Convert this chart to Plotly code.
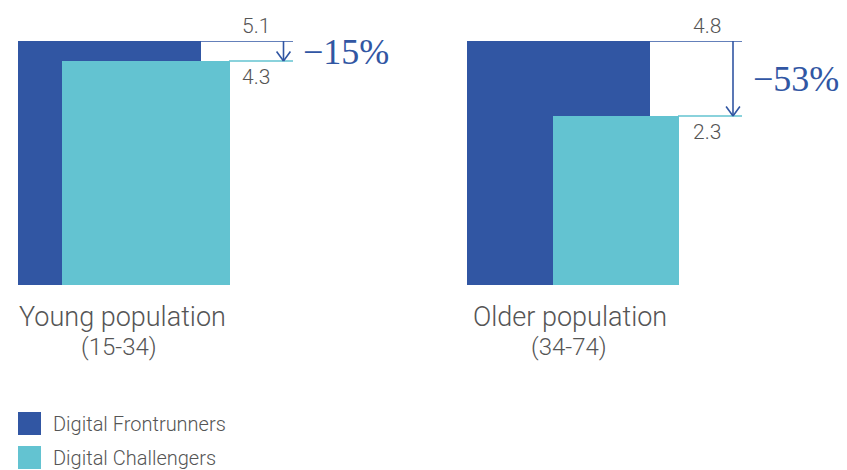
import math
import plotly.graph_objects as go

# ---------------- data ----------------
groups = ["Young population", "Older population"]
age_ranges = ["(15-34)", "(34-74)"]
series_names = ["Digital Frontrunners", "Digital Challengers"]
frontrunners = [5.1, 4.8]
challengers = [4.3, 2.3]
value_labels_front = ["5.1", "4.8"]
value_labels_chall = ["4.3", "2.3"]
change_labels = ["\u221215%", "\u221253%"]

# ---------------- style / layout ----------------
DARK = "#3156A3"
TEAL = "#63C3D1"
TEXT = "#555555"
SANS = "Roboto"
SERIF = "Liberation Serif"

W, H = 847, 470
PLOT_TOP, PLOT_BOTTOM = 41, 285
GROUP_CENTER0 = 109.0   # px of group 0 centre
GROUP_STEP = 449.5      # px between groups


def xu(px):
    """pixel -> x-axis units"""
    return (px - GROUP_CENTER0) / GROUP_STEP


def px_x(px):
    return px / W


def px_y(py):
    return 1 - py / H


# per-group geometry (pixels) and log-axis span (decades)
geom = [
    dict(dark=(18, 201), teal=(62, 230), line_end=293, arrow_x=283.5,
         label_x=256, pct_x=301, cat_x=122, age_x=119, decades=0.904),
    dict(dark=(467, 650), teal=(553, 679), line_end=742, arrow_x=733,
         label_x=706.5, pct_x=751, cat_x=570, age_x=569, decades=1.0396),
]

fig = go.Figure()
annotations = []

for i, g in enumerate(geom):
    ya = "y" if i == 0 else "y2"
    gx = i
    d0, d1 = g["dark"]
    t0, t1 = g["teal"]
    # bars
    fig.add_trace(go.Bar(
        x=[gx], y=[frontrunners[i]], width=[(d1 - d0) / GROUP_STEP],
        offset=[xu(d0) - gx], marker=dict(color=DARK, line=dict(width=0)),
        yaxis=ya, name=series_names[0], showlegend=False, hoverinfo="skip"))
    fig.add_trace(go.Bar(
        x=[gx], y=[challengers[i]], width=[(t1 - t0) / GROUP_STEP],
        offset=[xu(t0) - gx], marker=dict(color=TEAL, line=dict(width=0)),
        yaxis=ya, name=series_names[1], showlegend=False, hoverinfo="skip"))
    # reference lines
    fig.add_trace(go.Scatter(
        x=[xu(d1), xu(g["line_end"])], y=[frontrunners[i], frontrunners[i]],
        mode="lines", line=dict(color=DARK, width=1.6), yaxis=ya,
        showlegend=False, hoverinfo="skip", cliponaxis=False))
    fig.add_trace(go.Scatter(
        x=[xu(t1 - 1), xu(g["line_end"])], y=[challengers[i], challengers[i]],
        mode="lines", line=dict(color=TEAL, width=1.6), yaxis=ya,
        showlegend=False, hoverinfo="skip", cliponaxis=False))
    # arrow shaft
    fig.add_trace(go.Scatter(
        x=[xu(g["arrow_x"]), xu(g["arrow_x"])], y=[frontrunners[i], challengers[i]],
        mode="lines", line=dict(color=DARK, width=1.6), yaxis=ya,
        showlegend=False, hoverinfo="skip", cliponaxis=False))
    # arrow head arms
    for dx in (-8, 8):
        annotations.append(dict(
            x=xu(g["arrow_x"]), y=math.log10(challengers[i]), xref="x", yref=ya,
            ax=dx, ay=-11, text="", showarrow=True, arrowhead=0,
            arrowwidth=1.6, arrowcolor=DARK, standoff=0, startstandoff=0))
    # value labels
    annotations.append(dict(
        x=xu(g["label_x"]), y=math.log10(frontrunners[i]), xref="x", yref=ya,
        xanchor="center", yanchor="middle",
        text=value_labels_front[i], showarrow=False, yshift=15,
        font=dict(family=SANS, size=21, color=TEXT, weight=300)))
    annotations.append(dict(
        x=xu(g["label_x"]), y=math.log10(challengers[i]), xref="x", yref=ya,
        xanchor="center", yanchor="middle",
        text=value_labels_chall[i], showarrow=False, yshift=-16,
        font=dict(family=SANS, size=21, color=TEXT, weight=300)))
    # change label
    mid = (math.log10(frontrunners[i]) + math.log10(challengers[i])) / 2
    annotations.append(dict(
        x=xu(g["pct_x"]), y=mid, xref="x", yref=ya, xanchor="left",
        yanchor="middle",
        text=change_labels[i], showarrow=False, yshift=-1,
        font=dict(family=SERIF, size=36, color=DARK)))
    # category labels
    annotations.append(dict(
        x=px_x(g["cat_x"]), y=px_y(317), xref="paper", yref="paper",
        xanchor="center", yanchor="middle",
        text=groups[i], showarrow=False,
        font=dict(family=SANS, size=27, color=TEXT, weight=300)))
    annotations.append(dict(
        x=px_x(g["age_x"]), y=px_y(347), xref="paper", yref="paper",
        xanchor="center", yanchor="middle",
        text=age_ranges[i], showarrow=False,
        font=dict(family=SANS, size=24, color=TEXT, weight=300)))

# manual legend
shapes = []
for k, (name, col) in enumerate(zip(series_names, [DARK, TEAL])):
    cy = 423.5 + 34 * k
    shapes.append(dict(type="rect", xref="paper", yref="paper",
                       x0=px_x(18), x1=px_x(41), y0=px_y(cy + 11.5), y1=px_y(cy - 11.5),
                       fillcolor=col, line=dict(width=0)))
    annotations.append(dict(
        x=px_x(51), y=px_y(cy), xref="paper", yref="paper",
        xanchor="left", yanchor="middle",
        text=name, showarrow=False,
        font=dict(family=SANS, size=20, color=TEXT, weight=300)))

ydom = [px_y(PLOT_BOTTOM), px_y(PLOT_TOP)]
top0 = math.log10(max(frontrunners[0], challengers[0]))
top1 = math.log10(max(frontrunners[1], challengers[1]))

fig.update_layout(
    width=W, height=H, margin=dict(l=0, r=0, t=0, b=0),
    paper_bgcolor="white", plot_bgcolor="white",
    barmode="overlay", showlegend=False,
    xaxis=dict(range=[xu(0), xu(W)], domain=[0, 1], visible=False, fixedrange=True),
    yaxis=dict(type="log", range=[top0 - geom[0]["decades"], top0], domain=ydom,
               visible=False, fixedrange=True),
    yaxis2=dict(type="log", range=[top1 - geom[1]["decades"], top1],
                overlaying="y", visible=False, fixedrange=True),
    annotations=annotations, shapes=shapes,
)

fig.write_html(
    "out.html",
    config={"displayModeBar": False},
    post_script="document.body.style.margin='0px';document.body.style.overflow='hidden';",
)
